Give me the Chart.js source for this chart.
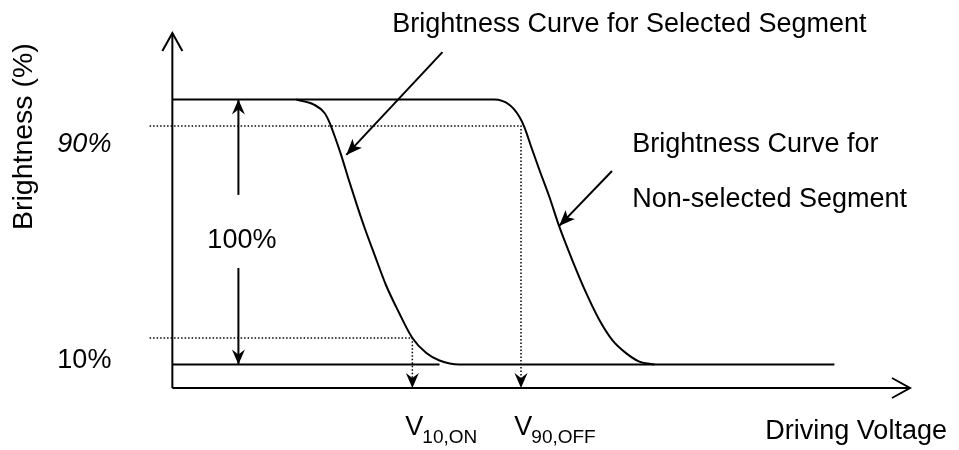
<!DOCTYPE html>
<html>
<head>
<meta charset="utf-8">
<title>Brightness vs Driving Voltage</title>
<script src="https://cdn.jsdelivr.net/npm/chart.js@4.4.1/dist/chart.umd.min.js"></script>
<style>
  html, body { margin: 0; padding: 0; background: #fff; }
  #wrap { width: 959px; height: 450px; }
</style>
</head>
<body>
<div id="wrap"><canvas id="chart" width="959" height="450"></canvas></div>
<script>
// curve for the selected segment (voltage, brightness %)
const voltSelected   = [16.9, 19.35, 20.71, 21.39, 22.07, 23.0, 24.0, 25.1, 26.2, 27.6, 29.1, 30.8, 32.7, 34.6, 36.4, 39.1, 90.2];
const brightSelected = [100, 98, 95, 91.5, 86.5, 79, 70, 60.5, 51.5, 41, 30, 20, 10, 4.3, 1.5, 0, 0];

// curve for the non-selected segment
const voltNonSelected   = [0, 43.87, 45.91, 47.28, 47.96, 48.91, 50.0, 51.36, 52.72, 54.4, 56.3, 58.2, 60.0, 61.85, 63.62, 65.67];
const brightNonSelected = [100, 100, 98, 93.5, 89.6, 82, 73.5, 63.3, 52, 40, 27.5, 16.7, 9, 4.2, 1.1, 0];

// bottom (0 %) line on the left, ends before curve 1 lands
const voltBaseLeft   = [0, 36.4];
const brightBaseLeft = [0, 0];

// threshold levels and voltages
const levels     = [90, 10];
const levelVolts = [47.5, 32.7];   // V90,OFF , V10,ON
const levelStart = -3.1;

// axis extents
const axisFloor = -8.87;
const axisTop   = 125.1;
const axisRight = 100.5;

// 100% span arrow
const spanVolt  = 9;
const spanUpper = [64, 100];
const spanLower = [36.4, 0];

// pointer arrows from the captions to the curves
const pointerSelected    = [[36.8, 117.9], [23.7, 79.1]];
const pointerNonSelected = [[59.9, 73.0], [52.7, 52.3]];

const FONT = '"Liberation Sans", Arial, Helvetica, sans-serif';

function pts(xs, ys) {
  return xs.map((v, i) => ({ x: v, y: ys[i] }));
}

function solid(data, extra) {
  return Object.assign({
    data: data, showLine: true, borderColor: '#000', borderWidth: 2,
    pointRadius: 0, fill: false, clip: false
  }, extra || {});
}

function dotted(data, extra) {
  return solid(data, Object.assign({ borderWidth: 1.5, borderDash: [1.5, 2] }, extra || {}));
}

/* arrow heads at the last point of datasets that ask for one */
const arrowPlugin = {
  id: 'arrowHeads',
  afterDatasetsDraw(chart) {
    const ctx = chart.ctx;
    chart.data.datasets.forEach((ds, i) => {
      if (!ds.arrowHead) return;
      const el = chart.getDatasetMeta(i).data;
      const a = el[el.length - 2], b = el[el.length - 1];
      const ang = Math.atan2(b.y - a.y, b.x - a.x);
      ctx.save();
      ctx.translate(b.x, b.y);
      ctx.rotate(ang);
      ctx.fillStyle = '#000';
      ctx.strokeStyle = '#000';
      if (ds.arrowHead === 'open') {
        ctx.lineWidth = 2;
        ctx.beginPath();
        ctx.moveTo(-18, -10);
        ctx.lineTo(0, 0);
        ctx.lineTo(-18, 10);
        ctx.stroke();
      } else if (ds.arrowHead === 'notch') {
        ctx.beginPath();
        ctx.moveTo(0, 0);
        ctx.lineTo(-15, -6.5);
        ctx.lineTo(-10, 0);
        ctx.lineTo(-15, 6.5);
        ctx.closePath();
        ctx.fill();
      } else {
        ctx.beginPath();
        ctx.moveTo(0, 0);
        ctx.lineTo(-16, -6.5);
        ctx.lineTo(-12, 0);
        ctx.lineTo(-16, 6.5);
        ctx.closePath();
        ctx.fill();
      }
      ctx.restore();
    });
  }
};

/* captions, placed in data units through the scales */
const captions = [
  { text: 'Brightness Curve for Selected Segment', x: 29.97, y: 125.5 },
  { text: 'Brightness Curve for', x: 62.67, y: 80.2 },
  { text: 'Non-selected Segment', x: 62.67, y: 59.4 },
  { text: 'Driving Voltage', x: 80.79, y: -28.1 },
  { text: '90%', x: -15.67, y: 80.2, italic: true },
  { text: '10%', x: -15.67, y: -1.3 },
  { text: '100%', x: 4.77, y: 44.0 }
];
const subCaptions = [
  { main: 'V', sub: '10,ON', x: 31.74, y: -26.6 },
  { main: 'V', sub: '90,OFF', x: 46.59, y: -26.6 }
];

const textPlugin = {
  id: 'diagramText',
  afterDraw(chart) {
    const ctx = chart.ctx;
    const sx = chart.scales.x, sy = chart.scales.y;
    ctx.save();
    ctx.fillStyle = '#000';
    ctx.textBaseline = 'alphabetic';
    ctx.textAlign = 'left';

    captions.forEach(c => {
      ctx.font = (c.italic ? 'italic ' : '') + '27px ' + FONT;
      ctx.fillText(c.text, sx.getPixelForValue(c.x), sy.getPixelForValue(c.y));
    });

    subCaptions.forEach(c => {
      const px = sx.getPixelForValue(c.x), py = sy.getPixelForValue(c.y);
      ctx.font = '27px ' + FONT;
      ctx.fillText(c.main, px, py);
      const w = ctx.measureText(c.main).width;
      ctx.font = '19px ' + FONT;
      ctx.fillText(c.sub, px + w - 1, py + 8);
    });

    // y axis title
    ctx.font = '28.5px ' + FONT;
    ctx.translate(sx.getPixelForValue(-19.07), sy.getPixelForValue(86));
    ctx.rotate(-Math.PI / 2);
    ctx.textAlign = 'center';
    ctx.fillText('Brightness (%)', 0, 0);
    ctx.restore();
  }
};

const ctx = document.getElementById('chart').getContext('2d');

const datasets = [
  // axes
  solid([{ x: 0, y: axisFloor }, { x: 0, y: axisTop }], { arrowHead: 'open' }),
  solid([{ x: 0, y: axisFloor }, { x: axisRight, y: axisFloor }], { arrowHead: 'open' }),
  // curves
  solid(pts(voltSelected, brightSelected), { cubicInterpolationMode: 'monotone' }),
  solid(pts(voltNonSelected, brightNonSelected), { cubicInterpolationMode: 'monotone' }),
  solid(pts(voltBaseLeft, brightBaseLeft)),
  // 90% / 10% guides dropping to the axis
  dotted([{ x: levelStart, y: levels[0] }, { x: levelVolts[0], y: levels[0] }, { x: levelVolts[0], y: axisFloor }], { arrowHead: 'notch' }),
  dotted([{ x: levelStart, y: levels[1] }, { x: levelVolts[1], y: levels[1] }, { x: levelVolts[1], y: axisFloor }], { arrowHead: 'notch' }),
  // 100% span
  solid([{ x: spanVolt, y: spanUpper[0] }, { x: spanVolt, y: spanUpper[1] }], { arrowHead: 'notch' }),
  solid([{ x: spanVolt, y: spanLower[0] }, { x: spanVolt, y: spanLower[1] }], { arrowHead: 'notch' }),
  // pointers
  solid(pointerSelected.map(p => ({ x: p[0], y: p[1] })), { arrowHead: 'filled' }),
  solid(pointerNonSelected.map(p => ({ x: p[0], y: p[1] })), { arrowHead: 'filled' })
];

new Chart(ctx, {
  type: 'scatter',
  data: { datasets: datasets },
  options: {
    responsive: false,
    animation: false,
    devicePixelRatio: 1,
    layout: { padding: { left: 143, right: 49, top: 33, bottom: 62 } },
    plugins: {
      legend: { display: false },
      tooltip: { enabled: false }
    },
    scales: {
      x: { type: 'linear', min: -4, max: axisRight, display: false },
      y: { type: 'linear', min: axisFloor, max: axisTop, display: false }
    }
  },
  plugins: [arrowPlugin, textPlugin]
});
</script>
</body>
</html>
